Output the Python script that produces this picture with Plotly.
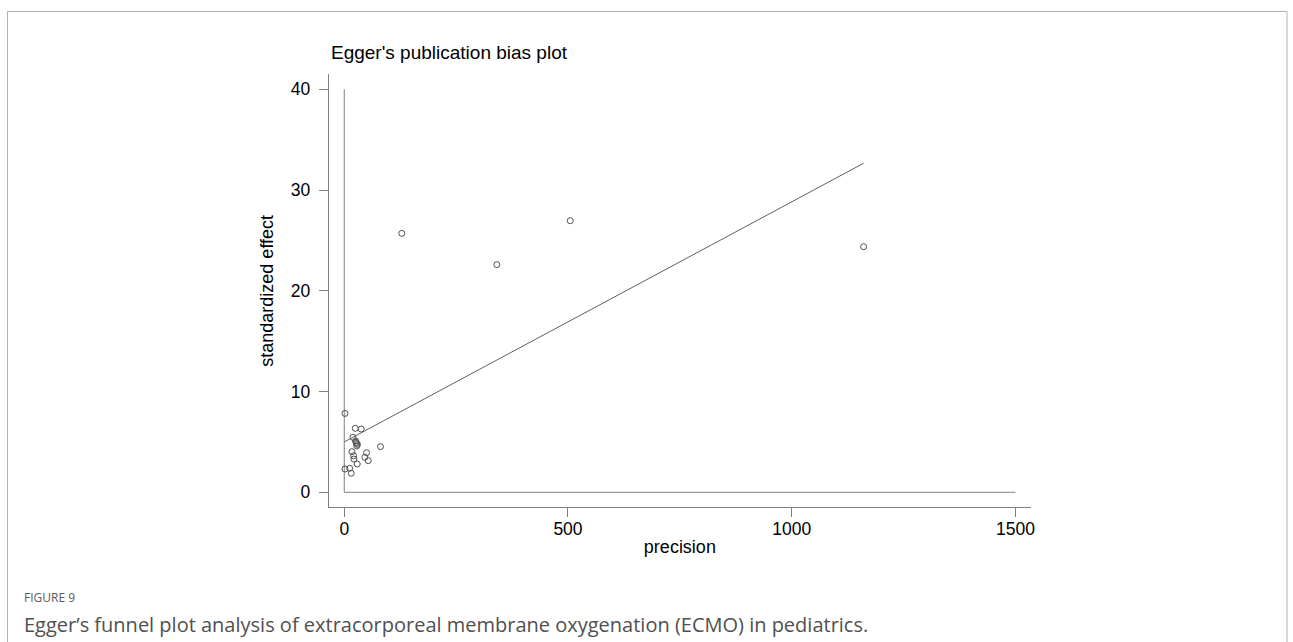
import plotly.graph_objects as go

W, H = 1293, 642

# Data
precision = [1.6, 128.6, 341, 505, 1160.7, 24.6, 37.9, 19.4, 25.3, 27.5, 29.5, 28.0, 26.5,
             81, 17.2, 49.9, 20.9, 46, 53.6, 21.6, 29, 1.6, 12, 15.6]
std_effect = [7.83, 25.7, 22.6, 26.96, 24.38, 6.35, 6.28, 5.46, 5.09, 4.85, 4.75, 4.6, 4.95,
              4.53, 4.03, 3.93, 3.63, 3.47, 3.14, 3.3, 2.81, 2.31, 2.38, 1.89]

egger_x = [0, 1160.7]
egger_y = [5.0, 32.66]

ref_v_x = [0, 0]
ref_v_y = [0, 40]
ref_h_x = [0, 1500]
ref_h_y = [0, 0]

x_ticks = [0, 500, 1000, 1500]
y_ticks = [0, 10, 20, 30, 40]

AXIS_COL = "#808080"
FONT = "Liberation Sans, Arial, sans-serif"
TICK_SIZE = 17.5
TITLE_SIZE = 18


def px_x(p):
    return p / W


def px_y(p):
    return 1 - p / H


fig = go.Figure()

fig.add_trace(go.Scatter(x=ref_v_x, y=ref_v_y, mode="lines",
                         line=dict(color=AXIS_COL, width=1), hoverinfo="skip", showlegend=False))
fig.add_trace(go.Scatter(x=ref_h_x, y=ref_h_y, mode="lines",
                         line=dict(color=AXIS_COL, width=1), hoverinfo="skip", showlegend=False))
fig.add_trace(go.Scatter(x=egger_x, y=egger_y, mode="lines",
                         line=dict(color="#606060", width=1), showlegend=False))
fig.add_trace(go.Scatter(x=precision, y=std_effect, mode="markers",
                         marker=dict(symbol="circle-open", size=6, color="#505050",
                                     line=dict(width=1, color="#505050")),
                         showlegend=False))

fig.update_layout(
    width=W, height=H,
    margin=dict(l=0, r=0, t=0, b=0),
    paper_bgcolor="white", plot_bgcolor="white",
    font=dict(family=FONT, size=16, color="black"),
    xaxis=dict(
        domain=[px_x(329.7), px_x(1034.3)],
        range=[-34.8, 1535],
        tickvals=x_ticks, ticktext=[str(v) for v in x_ticks],
        showgrid=False, zeroline=False,
        showline=True, linecolor=AXIS_COL, linewidth=1,
        ticks="outside", ticklen=9, tickcolor=AXIS_COL, tickwidth=1,
        ticklabelstandoff=-3,
        tickfont=dict(family=FONT, size=TICK_SIZE, color="black"),
        title=dict(text="precision", font=dict(family=FONT, size=TITLE_SIZE, color="black"), standoff=2),
    ),
    yaxis=dict(
        domain=[px_y(507.3), px_y(74.3)],
        range=[-1.49, 41.49],
        tickvals=y_ticks, ticktext=[str(v) for v in y_ticks],
        showgrid=False, zeroline=False,
        showline=True, linecolor=AXIS_COL, linewidth=1,
        ticks="outside", ticklen=9, tickcolor=AXIS_COL, tickwidth=1,
        ticklabelstandoff=5,
        tickfont=dict(family=FONT, size=TICK_SIZE, color="black"),
        title=dict(text="standardized effect", font=dict(family=FONT, size=TITLE_SIZE, color="black"), standoff=12),
    ),
    annotations=[
        dict(text="Egger's publication bias plot", x=px_x(330), y=px_y(52),
             xref="paper", yref="paper", xanchor="left", yanchor="middle", showarrow=False,
             font=dict(family=FONT, size=19, color="black")),
        dict(text="FIGURE 9", x=px_x(22), y=px_y(597),
             xref="paper", yref="paper", xanchor="left", yanchor="middle", showarrow=False,
             font=dict(family="Open Sans, sans-serif", size=12, color="#5a5a5a")),
        dict(text="Egger\u2019s funnel plot analysis of extracorporeal membrane oxygenation (ECMO) in pediatrics.",
             x=px_x(22), y=px_y(624),
             xref="paper", yref="paper", xanchor="left", yanchor="middle", showarrow=False,
             font=dict(family="Open Sans, sans-serif", size=20, color="#505050")),
    ],
    shapes=[
        dict(type="path", xref="paper", yref="paper",
             path=f"M {px_x(7.5)} -0.2 L {px_x(7.5)} {px_y(11.5)} L {px_x(1291)} {px_y(11.5)} L {px_x(1291)} -0.2",
             line=dict(color="#b0b0b0", width=1)),
    ],
)

fig.write_html("out.html")
